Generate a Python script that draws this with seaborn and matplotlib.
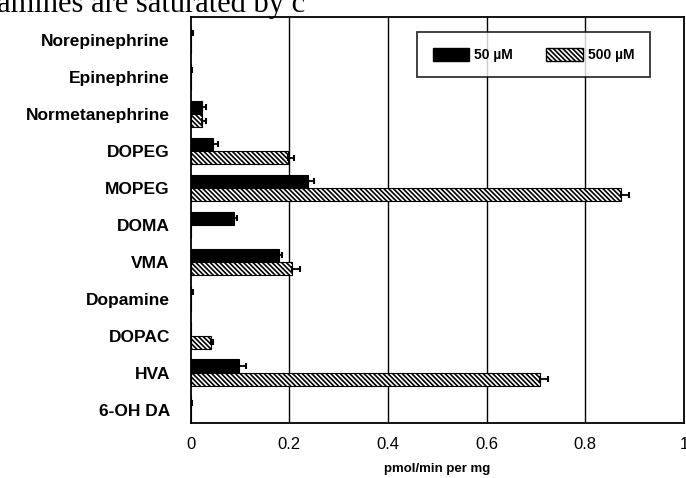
import numpy as np
import pandas as pd
import seaborn as sns
import matplotlib.pyplot as plt
from matplotlib.patches import Patch

# ==========================================
# Data (pmol/min per mg)
# ==========================================
compounds = ['Norepinephrine', 'Epinephrine', 'Normetanephrine', 'DOPEG', 'MOPEG',
             'DOMA', 'VMA', 'Dopamine', 'DOPAC', 'HVA', '6-OH DA']
conc_labels = ['50 \u00b5M', '500 \u00b5M']

rate_50 = [0.0, 0.0, 0.022, 0.045, 0.238, 0.088, 0.178, 0.0, 0.0, 0.098, 0.0]
err_50 = [0.004, 0.003, 0.008, 0.010, 0.012, 0.006, 0.008, 0.004, 0.0, 0.015, 0.003]
rate_500 = [0.0, 0.0, 0.022, 0.197, 0.873, 0.0, 0.205, 0.0, 0.042, 0.708, 0.0]
err_500 = [0.0, 0.0, 0.008, 0.012, 0.016, 0.0, 0.016, 0.0, 0.004, 0.016, 0.0]

x_ticks = [0, 0.2, 0.4, 0.6, 0.8, 1.0]
x_tick_labels = ['0', '0.2', '0.4', '0.6', '0.8', '1']

df = pd.DataFrame({
    'compound': compounds * 2,
    'conc': [conc_labels[0]] * len(compounds) + [conc_labels[1]] * len(compounds),
    'rate': rate_50 + rate_500,
    'err': err_50 + err_500,
})

# ==========================================
# Plot
# ==========================================
sns.set_style('white')
plt.rcParams['font.family'] = ['Liberation Sans', 'DejaVu Sans']
plt.rcParams['hatch.linewidth'] = 1.2
plt.rcParams['text.color'] = 'black'
plt.rcParams['xtick.color'] = 'black'
plt.rcParams['ytick.color'] = 'black'
plt.rcParams['axes.labelcolor'] = 'black'

HATCH = '\\\\\\\\\\\\\\'

fig = plt.figure(figsize=(6.86, 4.78), dpi=100)
ax = fig.add_axes([0.278, 0.115, 0.719, 0.849])

sns.barplot(data=df, y='compound', x='rate', hue='conc', order=compounds,
            hue_order=conc_labels, orient='h', width=0.72, errorbar=None,
            palette=['black', 'white'], edgecolor='black', linewidth=0.8,
            legend=False, ax=ax)

n = len(compounds)
patches = ax.patches[:2 * n]
for p in patches[n:]:
    p.set_hatch(HATCH)
    p.set_facecolor('white')

# error bars at the bar ends
for p, err in zip(patches, err_50 + err_500):
    if err <= 0:
        continue
    yc = p.get_y() + p.get_height() / 2
    ax.errorbar(p.get_width(), yc, xerr=[[0], [err]], fmt='none', ecolor='black',
                elinewidth=1.3, capsize=2.5, capthick=1.5, zorder=5)

ax.set_xlim(0, 1.0)
ax.set_ylim(10.36, -0.62)
ax.set_xticks(x_ticks)
ax.set_xticklabels(x_tick_labels, fontsize=12)
ax.tick_params(axis='x', length=0, pad=10)
ax.tick_params(axis='y', length=0, pad=15)
for lbl in ax.get_yticklabels():
    lbl.set_fontsize(12.5)
    lbl.set_fontweight('bold')

for xv in x_ticks[1:-1]:
    ax.axvline(xv, color='black', linewidth=1.0, zorder=0)
for sp in ax.spines.values():
    sp.set_color('black')
    sp.set_linewidth(1.3)

ax.set_ylabel('')
ax.set_xlabel('pmol/min per mg', fontsize=9.5, fontweight='bold', labelpad=8)

handles = [Patch(facecolor='black', edgecolor='black', label=conc_labels[0]),
           Patch(facecolor='white', edgecolor='black', hatch=HATCH, label=conc_labels[1])]
leg = ax.legend(handles=handles, ncol=2, loc='upper right', bbox_to_anchor=(0.945, 0.98),
                frameon=True, fancybox=False, edgecolor='black',
                prop={'size': 10, 'weight': 'bold'}, handlelength=2.6, handleheight=1.1,
                handletextpad=0.4, columnspacing=2.4, borderpad=1.1)
leg.get_frame().set_linewidth(1.3)

# clipped running text from the scanned page above the figure
fig.text(-0.005, 1 - 12 / 478, 'amines are saturated by c', fontsize=22,
         family='Liberation Serif', ha='left', va='baseline')

fig.savefig('out.png', dpi=100)
